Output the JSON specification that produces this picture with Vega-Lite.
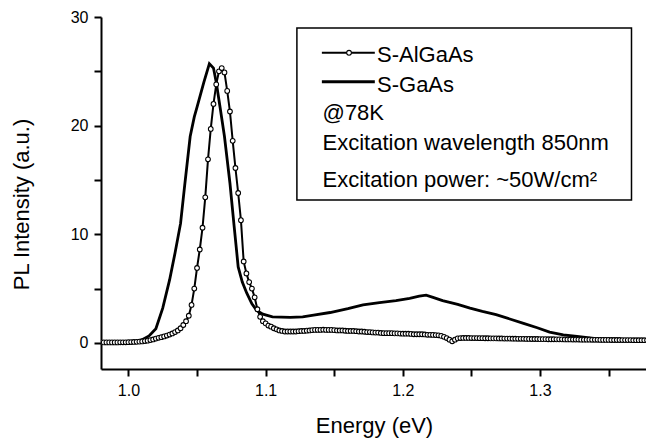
{
  "$schema": "https://vega.github.io/schema/vega-lite/v6.json",
  "width": 546,
  "height": 352,
  "autosize": {"type": "none"},
  "padding": {"left": 101, "top": 17, "right": 0, "bottom": 72},
  "background": "white",
  "config": {
    "view": {"stroke": null},
    "font": "Liberation Sans",
    "axis": {
      "domainColor": "black", "tickColor": "black", "labelColor": "black", "titleColor": "black",
      "grid": false, "domainWidth": 2, "tickWidth": 2, "ticks": true, "tickOpacity": 1,
      "labelFontSize": 16, "titleFontSize": 22, "titleFontWeight": "normal"
    }
  },
  "datasets": {
    "gaas": [
      {"e":0.98,"i":0.05},{"e":0.99,"i":0.05},{"e":1.0,"i":0.06},{"e":1.005,"i":0.1},{"e":1.01,"i":0.3},
      {"e":1.015,"i":0.65},{"e":1.02,"i":1.3},{"e":1.025,"i":3.2},{"e":1.03,"i":5.8},{"e":1.034,"i":8.3},
      {"e":1.038,"i":11.0},{"e":1.041,"i":14.5},{"e":1.045,"i":19.0},{"e":1.048,"i":20.8},{"e":1.05,"i":21.7},
      {"e":1.055,"i":24.0},{"e":1.059,"i":25.7},{"e":1.062,"i":25.3},{"e":1.064,"i":24.0},{"e":1.0668,"i":21.7},
      {"e":1.07,"i":19.0},{"e":1.074,"i":14.7},{"e":1.077,"i":10.8},{"e":1.08,"i":7.0},{"e":1.083,"i":5.6},
      {"e":1.0862,"i":4.6},{"e":1.09,"i":3.6},{"e":1.0935,"i":3.0},{"e":1.098,"i":2.65},{"e":1.105,"i":2.4},
      {"e":1.118,"i":2.35},{"e":1.127,"i":2.4},{"e":1.135,"i":2.55},{"e":1.147,"i":2.8},{"e":1.16,"i":3.15},
      {"e":1.171,"i":3.5},{"e":1.183,"i":3.7},{"e":1.195,"i":3.9},{"e":1.205,"i":4.1},{"e":1.212,"i":4.3},
      {"e":1.217,"i":4.4},{"e":1.222,"i":4.2},{"e":1.229,"i":3.9},{"e":1.24,"i":3.55},{"e":1.249,"i":3.2},
      {"e":1.258,"i":2.9},{"e":1.268,"i":2.6},{"e":1.278,"i":2.2},{"e":1.288,"i":1.8},{"e":1.298,"i":1.4},
      {"e":1.307,"i":1.0},{"e":1.317,"i":0.75},{"e":1.327,"i":0.6},{"e":1.341,"i":0.4},{"e":1.355,"i":0.33},
      {"e":1.378,"i":0.28}
    ],
    "algaas": [
      {"e":0.98,"i":0.05},{"e":0.982,"i":0.05},{"e":0.984,"i":0.05},{"e":0.986,"i":0.05},{"e":0.988,"i":0.05},
      {"e":0.99,"i":0.05},{"e":0.992,"i":0.05},{"e":0.994,"i":0.06},{"e":0.996,"i":0.06},{"e":0.998,"i":0.06},
      {"e":1.0,"i":0.07},{"e":1.002,"i":0.08},{"e":1.004,"i":0.09},{"e":1.006,"i":0.1},{"e":1.008,"i":0.12},
      {"e":1.01,"i":0.14},{"e":1.012,"i":0.17},{"e":1.014,"i":0.21},{"e":1.016,"i":0.26},{"e":1.018,"i":0.32},
      {"e":1.02,"i":0.4},{"e":1.022,"i":0.47},{"e":1.024,"i":0.53},{"e":1.026,"i":0.6},{"e":1.028,"i":0.68},
      {"e":1.03,"i":0.77},{"e":1.032,"i":0.87},{"e":1.034,"i":1.0},{"e":1.036,"i":1.15},{"e":1.038,"i":1.35},
      {"e":1.04,"i":1.65},{"e":1.042,"i":2.0},{"e":1.044,"i":2.5},{"e":1.046,"i":3.5},{"e":1.048,"i":5.0},
      {"e":1.05,"i":6.9},{"e":1.052,"i":8.6},{"e":1.054,"i":10.6},{"e":1.056,"i":13.4},{"e":1.058,"i":16.9},
      {"e":1.06,"i":19.7},{"e":1.062,"i":22.0},{"e":1.064,"i":23.8},{"e":1.066,"i":25.0},{"e":1.068,"i":25.3},
      {"e":1.07,"i":24.9},{"e":1.072,"i":23.2},{"e":1.074,"i":21.3},{"e":1.076,"i":18.6},{"e":1.078,"i":16.1},
      {"e":1.08,"i":13.8},{"e":1.082,"i":11.3},{"e":1.084,"i":7.5},{"e":1.086,"i":6.4},{"e":1.088,"i":5.6},
      {"e":1.09,"i":5.0},{"e":1.092,"i":4.2},{"e":1.094,"i":3.1},{"e":1.096,"i":2.4},{"e":1.098,"i":2.0},
      {"e":1.1,"i":1.8},{"e":1.102,"i":1.6},{"e":1.104,"i":1.5},{"e":1.106,"i":1.35},{"e":1.108,"i":1.25},
      {"e":1.11,"i":1.15},{"e":1.112,"i":1.1},{"e":1.114,"i":1.05},{"e":1.116,"i":1.05},{"e":1.118,"i":1.05},
      {"e":1.12,"i":1.05},{"e":1.122,"i":1.05},{"e":1.124,"i":1.08},{"e":1.126,"i":1.1},{"e":1.128,"i":1.1},
      {"e":1.13,"i":1.13},{"e":1.132,"i":1.15},{"e":1.134,"i":1.18},{"e":1.136,"i":1.2},{"e":1.138,"i":1.2},
      {"e":1.14,"i":1.2},{"e":1.142,"i":1.22},{"e":1.144,"i":1.2},{"e":1.146,"i":1.2},{"e":1.148,"i":1.2},
      {"e":1.15,"i":1.18},{"e":1.152,"i":1.15},{"e":1.154,"i":1.15},{"e":1.156,"i":1.15},{"e":1.158,"i":1.12},
      {"e":1.16,"i":1.1},{"e":1.162,"i":1.1},{"e":1.164,"i":1.1},{"e":1.166,"i":1.08},{"e":1.168,"i":1.05},
      {"e":1.17,"i":1.05},{"e":1.172,"i":1.03},{"e":1.174,"i":1.0},{"e":1.176,"i":1.0},{"e":1.178,"i":0.97},
      {"e":1.18,"i":0.95},{"e":1.182,"i":0.95},{"e":1.184,"i":0.92},{"e":1.186,"i":0.9},{"e":1.188,"i":0.9},
      {"e":1.19,"i":0.9},{"e":1.192,"i":0.9},{"e":1.194,"i":0.88},{"e":1.196,"i":0.88},{"e":1.198,"i":0.86},
      {"e":1.2,"i":0.85},{"e":1.202,"i":0.85},{"e":1.204,"i":0.85},{"e":1.206,"i":0.83},{"e":1.208,"i":0.8},
      {"e":1.21,"i":0.8},{"e":1.212,"i":0.8},{"e":1.214,"i":0.8},{"e":1.216,"i":0.78},{"e":1.218,"i":0.75},
      {"e":1.22,"i":0.75},{"e":1.222,"i":0.74},{"e":1.224,"i":0.72},{"e":1.226,"i":0.7},{"e":1.228,"i":0.65},
      {"e":1.23,"i":0.56},{"e":1.232,"i":0.45},{"e":1.234,"i":0.3},{"e":1.236,"i":0.15},{"e":1.238,"i":0.3},
      {"e":1.24,"i":0.42},{"e":1.242,"i":0.45},{"e":1.244,"i":0.46},{"e":1.246,"i":0.46},{"e":1.248,"i":0.46},
      {"e":1.25,"i":0.45},{"e":1.252,"i":0.45},{"e":1.254,"i":0.45},{"e":1.256,"i":0.44},{"e":1.258,"i":0.44},
      {"e":1.26,"i":0.43},{"e":1.262,"i":0.43},{"e":1.264,"i":0.42},{"e":1.266,"i":0.42},{"e":1.268,"i":0.42},
      {"e":1.27,"i":0.41},{"e":1.272,"i":0.41},{"e":1.274,"i":0.4},{"e":1.276,"i":0.4},{"e":1.278,"i":0.4},
      {"e":1.28,"i":0.39},{"e":1.282,"i":0.39},{"e":1.284,"i":0.38},{"e":1.286,"i":0.38},{"e":1.288,"i":0.38},
      {"e":1.29,"i":0.37},{"e":1.292,"i":0.37},{"e":1.294,"i":0.36},{"e":1.296,"i":0.36},{"e":1.298,"i":0.36},
      {"e":1.3,"i":0.35},{"e":1.302,"i":0.35},{"e":1.304,"i":0.35},{"e":1.306,"i":0.34},{"e":1.308,"i":0.34},
      {"e":1.31,"i":0.34},{"e":1.312,"i":0.33},{"e":1.314,"i":0.33},{"e":1.316,"i":0.33},{"e":1.318,"i":0.32},
      {"e":1.32,"i":0.32},{"e":1.322,"i":0.32},{"e":1.324,"i":0.31},{"e":1.326,"i":0.31},{"e":1.328,"i":0.31},
      {"e":1.33,"i":0.3},{"e":1.332,"i":0.3},{"e":1.334,"i":0.3},{"e":1.336,"i":0.3},{"e":1.338,"i":0.29},
      {"e":1.34,"i":0.29},{"e":1.342,"i":0.29},{"e":1.344,"i":0.28},{"e":1.346,"i":0.28},{"e":1.348,"i":0.28},
      {"e":1.35,"i":0.28},{"e":1.352,"i":0.27},{"e":1.354,"i":0.27},{"e":1.356,"i":0.27},{"e":1.358,"i":0.27},
      {"e":1.36,"i":0.26},{"e":1.362,"i":0.26},{"e":1.364,"i":0.26},{"e":1.366,"i":0.26},{"e":1.368,"i":0.25},
      {"e":1.37,"i":0.25},{"e":1.372,"i":0.25},{"e":1.374,"i":0.25},{"e":1.376,"i":0.25},{"e":1.378,"i":0.25}
    ],
    "one": [{}]
  },
  "layer": [
    {
      "data": {"name": "gaas"},
      "mark": {"type": "line", "color": "black", "strokeWidth": 2.8, "clip": true},
      "encoding": {
        "x": {"field": "e", "type": "quantitative",
          "scale": {"domain": [0.98, 1.378], "nice": false, "zero": false},
          "axis": {
            "values": [1.0, 1.05, 1.1, 1.15, 1.2, 1.25, 1.3, 1.35],
            "labelExpr": "abs(datum.value*10-round(datum.value*10))<0.001 ? format(datum.value,'.1f') : ''",
            "tickSize": 7, "labelPadding": 6,
            "title": "Energy (eV)", "titleY": 63, "titleBaseline": "alphabetic"
          }
        },
        "y": {"field": "i", "type": "quantitative",
          "scale": {"domain": [-2.4, 30], "nice": false, "zero": false},
          "axis": {
            "values": [0, 5, 10, 15, 20, 25, 30],
            "labelExpr": "datum.value % 10 === 0 ? datum.label : ''",
            "tickSize": 7, "labelPadding": 6,
            "title": "PL Intensity (a.u.)", "titleX": -73, "titleY": 187, "titleBaseline": "alphabetic"
          }
        }
      }
    },
    {
      "data": {"name": "algaas"},
      "mark": {"type": "line", "color": "black", "strokeWidth": 2, "clip": true},
      "encoding": {
        "x": {"field": "e", "type": "quantitative"},
        "y": {"field": "i", "type": "quantitative"}
      }
    },
    {
      "data": {"name": "algaas"},
      "mark": {"type": "point", "shape": "circle", "filled": true, "fill": "white", "stroke": "black", "strokeWidth": 1.1, "size": 22, "opacity": 1, "clip": true},
      "encoding": {
        "x": {"field": "e", "type": "quantitative"},
        "y": {"field": "i", "type": "quantitative"}
      }
    },
    {
      "data": {"name": "one"},
      "mark": {"type": "rect", "fill": "white", "stroke": "black", "strokeWidth": 1.5},
      "encoding": {
        "x": {"datum": 1.1228, "type": "quantitative"},
        "x2": {"datum": 1.3667},
        "y": {"datum": 28.99, "type": "quantitative"},
        "y2": {"datum": 13.15}
      }
    },
    {
      "data": {"name": "one"},
      "mark": {"type": "rule", "color": "black", "strokeWidth": 2},
      "encoding": {
        "x": {"datum": 1.141, "type": "quantitative"},
        "x2": {"datum": 1.1796},
        "y": {"datum": 26.71, "type": "quantitative"}
      }
    },
    {
      "data": {"name": "one"},
      "mark": {"type": "point", "shape": "circle", "filled": true, "fill": "white", "stroke": "black", "strokeWidth": 1.1, "size": 22, "opacity": 1},
      "encoding": {
        "x": {"datum": 1.1608, "type": "quantitative"},
        "y": {"datum": 26.71, "type": "quantitative"}
      }
    },
    {
      "data": {"name": "one"},
      "mark": {"type": "rule", "color": "black", "strokeWidth": 2.8},
      "encoding": {
        "x": {"datum": 1.141, "type": "quantitative"},
        "x2": {"datum": 1.1796},
        "y": {"datum": 24.04, "type": "quantitative"}
      }
    },
    {
      "data": {"name": "one"},
      "mark": {"type": "text", "text": "S-AlGaAs", "align": "left", "baseline": "alphabetic", "fontSize": 22, "color": "black"},
      "encoding": {
        "x": {"datum": 1.1812, "type": "quantitative"},
        "y": {"datum": 25.88, "type": "quantitative"}
      }
    },
    {
      "data": {"name": "one"},
      "mark": {"type": "text", "text": "S-GaAs", "align": "left", "baseline": "alphabetic", "fontSize": 22, "color": "black"},
      "encoding": {
        "x": {"datum": 1.1812, "type": "quantitative"},
        "y": {"datum": 23.12, "type": "quantitative"}
      }
    },
    {
      "data": {"name": "one"},
      "mark": {"type": "text", "text": "@78K", "align": "left", "baseline": "alphabetic", "fontSize": 22, "color": "black"},
      "encoding": {
        "x": {"datum": 1.1415, "type": "quantitative"},
        "y": {"datum": 20.52, "type": "quantitative"}
      }
    },
    {
      "data": {"name": "one"},
      "mark": {"type": "text", "text": "Excitation wavelength 850nm", "align": "left", "baseline": "alphabetic", "fontSize": 22, "color": "black"},
      "encoding": {
        "x": {"datum": 1.1415, "type": "quantitative"},
        "y": {"datum": 17.76, "type": "quantitative"}
      }
    },
    {
      "data": {"name": "one"},
      "mark": {"type": "text", "text": "Excitation power: ~50W/cm²", "align": "left", "baseline": "alphabetic", "fontSize": 22, "color": "black"},
      "encoding": {
        "x": {"datum": 1.1415, "type": "quantitative"},
        "y": {"datum": 14.38, "type": "quantitative"}
      }
    }
  ]
}
